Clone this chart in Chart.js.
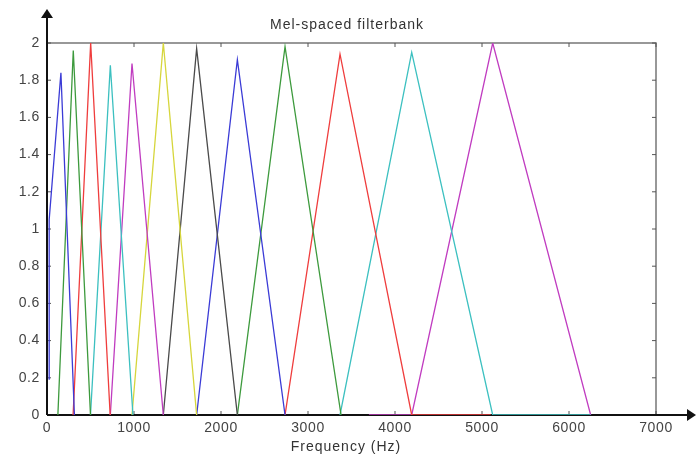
<!DOCTYPE html>
<html>
<head>
<meta charset="utf-8">
<script src="https://cdn.jsdelivr.net/npm/chart.js@4.4.1/dist/chart.umd.min.js"></script>
<style>
  html, body { margin: 0; padding: 0; background: #fff; }
  #wrap { width: 696px; height: 459px; }
</style>
</head>
<body>
<div id="wrap"><canvas id="myChart" width="696" height="459"></canvas></div>
<script>
// triangular filters: rise from startHz, peak at centerHz, fall to endHz
const startHz  = [25, 125, 300, 500, 728, 977, 1337, 1720, 2188, 2736, 3368, 4192];
const centerHz = [160, 302, 502, 728, 977, 1337, 1720, 2188, 2736, 3368, 4192, 5123];
const endHz    = [315, 500, 726, 988, 1337, 1720, 2188, 2736, 3380, 4192, 5123, 6249];
const peakHeights = [1.84, 1.96, 2.0, 1.88, 1.89, 2.0, 1.97, 1.91, 1.98, 1.94, 1.95, 2.0];
// zero-valued stretches that show along the baseline
const zeroFromHz = [null, null, null, null, null, null, null, null, null, null, null, 3700];
const zeroToHz   = [null, null, null, null, null, null, null, null, null, 5100, 6249, null];
// first filter starts with a jump at the lowest bin
const firstRise = [0.19, 1.05];
const lineColors = ['#3b3bd6', '#3d9a3d', '#ef3d3d', '#3cc0c0', '#c03cc0', '#d6d63c', '#4a4a4a',
                    '#3b3bd6', '#3d9a3d', '#ef3d3d', '#3cc0c0', '#c03cc0'];
const xTicks = [0, 1000, 2000, 3000, 4000, 5000, 6000, 7000];
const yTicks = [0, 0.2, 0.4, 0.6, 0.8, 1, 1.2, 1.4, 1.6, 1.8, 2];

// Build one dataset per triangular filter
const datasets = peakHeights.map((peak, i) => {
    const pts = [];
    if (zeroFromHz[i] !== null) pts.push({ x: zeroFromHz[i], y: 0 });
    if (i === 0) {
        pts.push({ x: startHz[0], y: firstRise[0] });
        pts.push({ x: startHz[0], y: firstRise[1] });
    } else {
        pts.push({ x: startHz[i], y: 0 });
    }
    pts.push({ x: centerHz[i], y: peak });
    pts.push({ x: endHz[i], y: 0 });
    if (zeroToHz[i] !== null) pts.push({ x: zeroToHz[i], y: 0 });
    return {
        data: pts,
        borderColor: lineColors[i],
        borderWidth: 1.3,
        pointRadius: 0,
        showLine: true,
        fill: false,
        tension: 0
    };
});

// letter spacing for the tick labels (they look spread out in the original)
const spacingPlugin = {
    id: 'spacing',
    beforeDraw(chart) { chart.ctx.letterSpacing = '0.6px'; }
};

// Frame, inward ticks, arrows (under the lines) and the title / axis label
const framePlugin = {
    id: 'frame',
    beforeDatasetsDraw(chart) {
        const ctx = chart.ctx;
        const { left, right, top, bottom } = chart.chartArea;
        const xs = chart.scales.x, ys = chart.scales.y;
        ctx.save();

        // gray box top + right
        ctx.strokeStyle = '#777';
        ctx.lineWidth = 1.5;
        ctx.beginPath();
        ctx.moveTo(left, top);
        ctx.lineTo(right, top);
        ctx.lineTo(right, bottom);
        ctx.stroke();

        // inward ticks
        ctx.lineWidth = 1;
        ctx.strokeStyle = '#555';
        ctx.beginPath();
        xTicks.forEach(v => {
            const px = xs.getPixelForValue(v);
            ctx.moveTo(px, top); ctx.lineTo(px, top + 4);
            ctx.moveTo(px, bottom); ctx.lineTo(px, bottom - 4);
        });
        yTicks.forEach(v => {
            const py = ys.getPixelForValue(v);
            ctx.moveTo(right, py); ctx.lineTo(right - 4, py);
            ctx.moveTo(left, py); ctx.lineTo(left + 4, py);
        });
        ctx.stroke();

        // black axes with arrows
        ctx.strokeStyle = '#111';
        ctx.fillStyle = '#111';
        ctx.lineWidth = 2;
        ctx.beginPath();
        ctx.moveTo(left, bottom);
        ctx.lineTo(left, 16);
        ctx.moveTo(left, bottom);
        ctx.lineTo(688, bottom);
        ctx.stroke();

        ctx.beginPath();
        ctx.moveTo(left, 9);
        ctx.lineTo(left - 6, 18);
        ctx.lineTo(left + 6, 18);
        ctx.closePath();
        ctx.fill();

        ctx.beginPath();
        ctx.moveTo(696, bottom);
        ctx.lineTo(687, bottom - 6);
        ctx.lineTo(687, bottom + 6);
        ctx.closePath();
        ctx.fill();

        // title and x label
        ctx.fillStyle = '#333';
        ctx.textAlign = 'center';
        ctx.textBaseline = 'middle';
        ctx.letterSpacing = '1px';
        ctx.font = '14px "Liberation Sans", Arial, sans-serif';
        ctx.fillText('Mel-spaced filterbank', 347, 25);
        ctx.fillText('Frequency (Hz)', 346, 447);

        ctx.restore();
    }
};

const ctx = document.getElementById('myChart').getContext('2d');
const myChart = new Chart(ctx, {
    type: 'scatter',
    data: { datasets: datasets },
    options: {
        responsive: false,
        animation: false,
        layout: { padding: { top: 43, right: 40, left: 0, bottom: 0 } },
        plugins: {
            legend: { display: false },
            tooltip: { enabled: false },
            title: { display: false }
        },
        scales: {
            x: {
                type: 'linear',
                min: 0,
                max: 7000,
                afterFit: (scale) => { scale.height = 44; },
                afterBuildTicks: (scale) => { scale.ticks = xTicks.map(v => ({ value: v })); },
                grid: { display: false, drawTicks: false },
                border: { display: false },
                ticks: {
                    padding: 5,
                    color: '#444',
                    font: { family: '"Liberation Sans", Arial, sans-serif', size: 14 },
                    maxRotation: 0,
                    callback: (v) => String(v)
                }
            },
            y: {
                type: 'linear',
                min: 0,
                max: 2,
                afterFit: (scale) => { scale.width = 47; },
                afterBuildTicks: (scale) => { scale.ticks = yTicks.map(v => ({ value: v })); },
                grid: { display: false, drawTicks: false },
                border: { display: false },
                ticks: {
                    padding: 7,
                    color: '#444',
                    font: { family: '"Liberation Sans", Arial, sans-serif', size: 14 },
                    callback: (v) => String(Math.round(v * 10) / 10)
                }
            }
        }
    },
    plugins: [spacingPlugin, framePlugin]
});
</script>
</body>
</html>
